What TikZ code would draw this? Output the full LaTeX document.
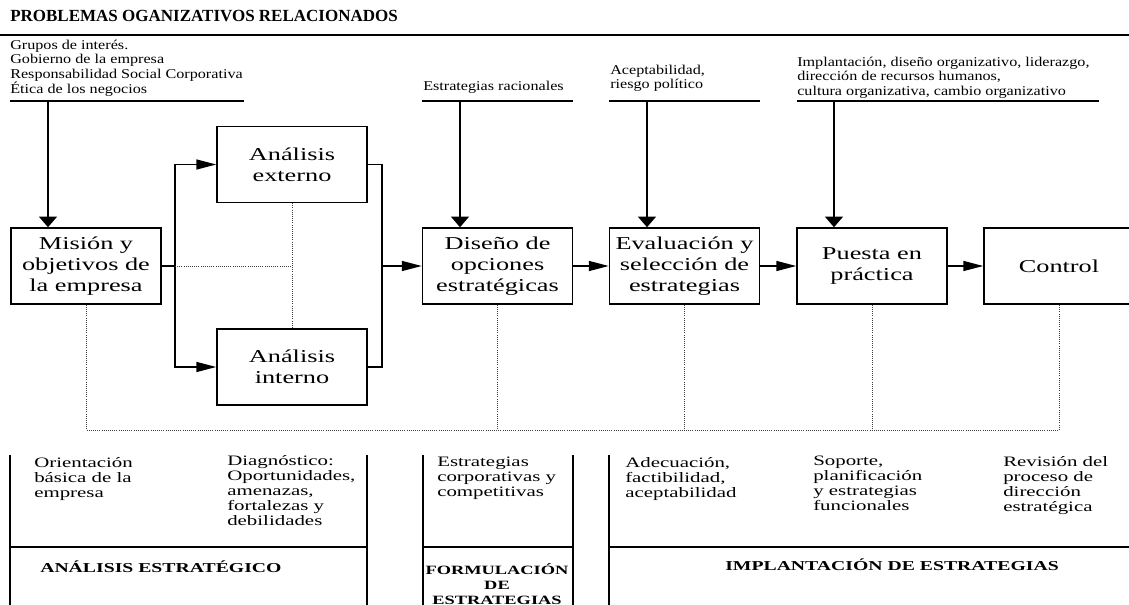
\documentclass[tikz,border=0pt]{standalone}
\usepackage{fontspec}
\setmainfont{Liberation Serif}
\newfontfamily\widerm{Liberation Serif}[FakeStretch=1.45]
\newfontfamily\midrm{Liberation Serif}[FakeStretch=1.2]
\usetikzlibrary{arrows.meta}

\tikzset{
  etapa/.style={draw,line width=1.1pt,minimum width=112.5pt,minimum height=57pt,inner sep=0pt,
    align=center,font=\widerm\fontsize{13.6}{15.75}\selectfont},
  nota/.style={inner sep=0pt,anchor=north west,align=left,font=\midrm\fontsize{10.1}{10.7}\selectfont},
  efecto/.style={inner sep=0pt,anchor=north west,align=left,font=\widerm\fontsize{10.8}{11.25}\selectfont},
  bloque/.style={inner sep=0pt,align=center,font=\widerm\bfseries\fontsize{10.2}{11.25}\selectfont},
  flecha/.style={line width=1.1pt,-{Triangle[length=15pt,width=7.5pt]}},
  baja/.style={line width=1.1pt,-{Triangle[length=8pt,width=13.5pt]}},
  fino/.style={densely dotted,line width=0.6pt,black!75},
  raya/.style={line width=1pt},
  marco/.style={line width=1.1pt}
}

\begin{document}
\begin{tikzpicture}[x=0.75pt,y=-0.75pt]
\useasboundingbox (0,0) rectangle (1129,605);

\node[inner sep=0pt,anchor=west,font=\bfseries\fontsize{12.75}{14}\selectfont] (titulo) at (10,16) {PROBLEMAS OGANIZATIVOS RELACIONADOS};
\draw[raya] (0,35) -- (1129,35);

\node[etapa] (mision) at (86,266) {Misión y\\objetivos de\\la empresa};
\node[etapa] (externo) at (292,164.5) {Análisis\\externo};
\node[etapa] (interno) at (292,367) {Análisis\\interno};
\node[etapa] (diseno) at (497.5,266) {Diseño de\\opciones\\estratégicas};
\node[etapa] (evaluacion) at (684.5,266) {Evaluación y\\selección de\\estrategias};
\node[etapa] (puesta) at (872,266) {Puesta en\\práctica};
\node[etapa] (control) at (1059,266) {Control};

\node[nota] (n1) at (10,40) {Grupos de interés.\\Gobierno de la empresa\\Responsabilidad Social Corporativa\\Ética de los negocios};
\node[nota,anchor=west] (n2) at (423,87) {Estrategias racionales};
\node[nota] (n3) at (610,65) {Aceptabilidad,\\riesgo político};
\node[nota] (n4) at (797,57) {Implantación, diseño organizativo, liderazgo,\\dirección de recursos humanos,\\cultura organizativa, cambio organizativo};

\foreach \a/\b/\x/\dest in {10/244/48/mision,422/573/460/diseno,609/760/647/evaluacion,797/1099/834/puesta}{
  \draw[raya] (\a,101) -- (\b,101);
  \coordinate (t\dest) at (\x,101);
  \draw[baja] (t\dest) -- (t\dest |- \dest.north);}

\coordinate (s1) at (175,266);
\coordinate (j1) at (382,266);
\draw[marco] (mision.east) -- (s1);
\draw[flecha] (s1) |- (externo.west);
\draw[flecha] (s1) |- (interno.west);
\draw[marco] (externo.east) -| (j1);
\draw[marco] (interno.east) -| (j1);
\draw[flecha] (j1) -- (diseno.west);
\draw[flecha] (diseno.east) -- (evaluacion.west);
\draw[flecha] (evaluacion.east) -- (puesta.west);
\draw[flecha] (puesta.east) -- (control.west);

\draw[fino] (s1) -- (s1 -| externo.south);
\draw[fino] (externo.south) -- (interno.north);
\coordinate (fb) at (0,430);
\draw[fino] (mision.south) -- (mision.south |- fb) -- (control.south |- fb) -- (control.south);
\foreach \n in {diseno,evaluacion,puesta}
  \draw[fino] (\n.south) -- (\n.south |- fb);

\draw[marco] (10,455) -- (10,605);
\draw[marco] (367,455) -- (367,605);
\draw[marco] (10,547) -- (367,547);
\draw[marco] (423,455) -- (423,605);
\draw[marco] (573,455) -- (573,605);
\draw[marco] (423,547) -- (573,547);
\draw[marco] (609,455) -- (609,605);
\draw[marco] (609,547) -- (1129,547);

\node[efecto] (b1) at (34,457) {Orientación\\básica de la\\empresa};
\node[efecto] (b2) at (227,455) {Diagnóstico:\\Oportunidades,\\amenazas,\\fortalezas y\\debilidades};
\node[efecto] (b3) at (437,457) {Estrategias\\corporativas y\\competitivas};
\node[efecto] (b4) at (625,457) {Adecuación,\\factibilidad,\\aceptabilidad};
\node[efecto] (b5) at (813,456) {Soporte,\\planificación\\y estrategias\\funcionales};
\node[efecto] (b6) at (1003,456) {Revisión del\\proceso de\\dirección\\estratégica};

\node[bloque,anchor=west] (h1) at (40,567) {ANÁLISIS ESTRATÉGICO};
\node[bloque,font=\widerm\bfseries\fontsize{9.5}{11}\selectfont] (h2) at (497,584) {FORMULACIÓN\\DE\\ESTRATEGIAS};
\node[bloque,anchor=west] (h3) at (725,565) {IMPLANTACIÓN DE ESTRATEGIAS};
\end{tikzpicture}
\end{document}
